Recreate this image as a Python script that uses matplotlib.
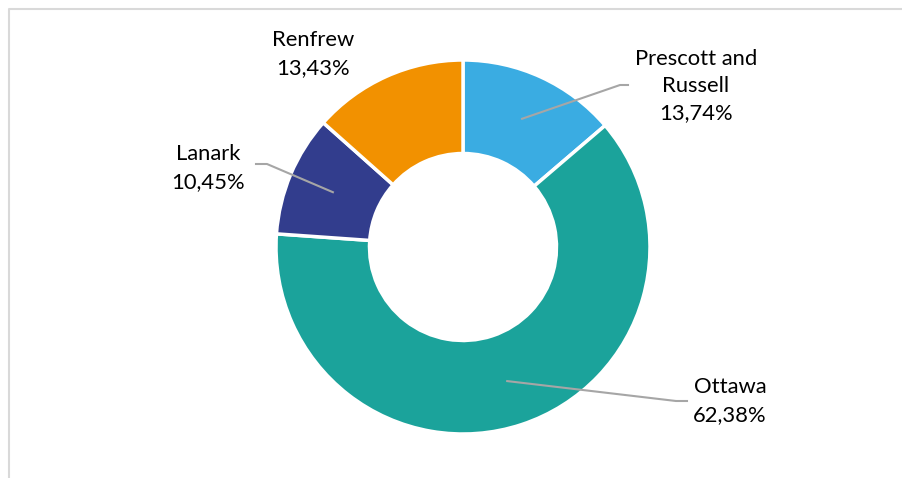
import numpy as np
import matplotlib.pyplot as plt

W, H = 902, 478

regions = ['Prescott and\nRussell', 'Ottawa', 'Lanark', 'Renfrew']
shares = [13.74, 62.38, 10.45, 13.43]
colors = ['#3AACE2', '#1BA39B', '#323D8D', '#F29100']

# label centres in pixels (x, y from top)
label_pos = [(696, 86), (730, 401), (208, 168), (313, 54)]
# elbow end of leader lines (None = no leader)
elbows = [((620, 85), (628, 85)), ((676, 401), (687, 401)), ((267, 164), (256, 164)), None]

cx, cy, R = 463, 247, 187

fig = plt.figure(figsize=(W / 100, H / 100), dpi=100)
ax = fig.add_axes([0, 0, 1, 1])

# light frame on top and left
ax.plot([9, 9, W + 5], [-5, H - 9, H - 9], color='#D9D9D9', lw=1.5, solid_capstyle='butt')

wedges, _ = ax.pie(shares, colors=colors, startangle=90, counterclock=False,
                   center=(cx, H - cy), radius=R, frame=True,
                   wedgeprops=dict(width=R * 0.5, edgecolor='white', linewidth=2.5))
ax.set_xlim(0, W)
ax.set_ylim(0, H)
ax.set_aspect('equal')
ax.axis('off')

for w, name, val, pos, el in zip(wedges, regions, shares, label_pos, elbows):
    txt = f"{name}\n{val:.2f}%".replace('.', ',')
    ax.text(pos[0], H - pos[1], txt, ha='center', va='center', fontsize=15.8,
            family='Lato', linespacing=1.45, color='#000000')
    if el is not None:
        mid = np.deg2rad((w.theta1 + w.theta2) / 2)
        r = R * 0.755
        px, py = cx + r * np.cos(mid), H - cy + r * np.sin(mid)
        ax.plot([px, el[0][0], el[1][0]], [py, H - el[0][1], H - el[1][1]],
                color='#A6A6A6', lw=1.5)

fig.savefig('out.png', dpi=100)
